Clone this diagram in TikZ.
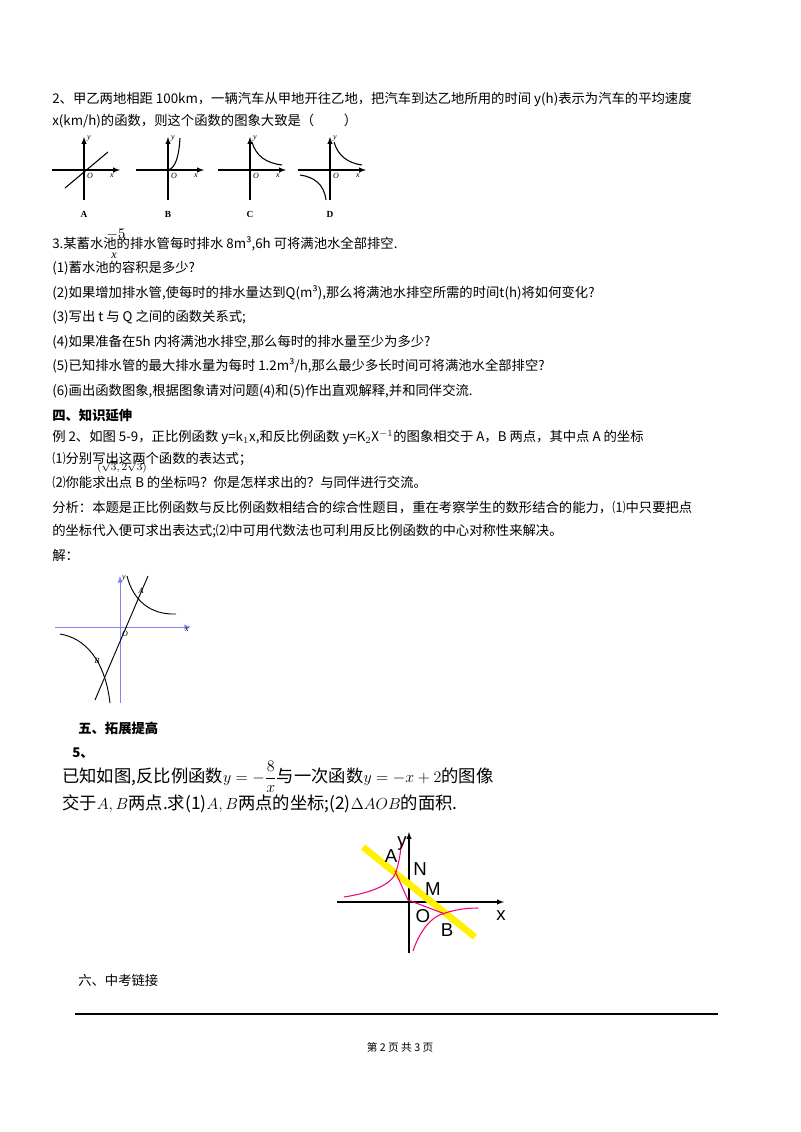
\documentclass[tikz,border=0pt]{standalone}
\usepackage{fontspec}
\setmainfont{Liberation Serif}
\newfontfamily\cjk{Noto Sans CJK SC}
\newfontfamily\arial{Liberation Sans}
\begin{document}
\begin{tikzpicture}[x=0.75pt,y=-0.75pt,
 tx/.style={anchor=base west,inner sep=0,font=\cjk\fontsize{10}{12}\selectfont},
 bx/.style={tx,font=\cjk\bfseries\fontsize{10}{12}\selectfont},
 ax/.style={line width=0.8pt},
 lb/.style={inner sep=0,font=\itshape\fontsize{6}{7}\selectfont},
 gl/.style={inner sep=0,font=\arial\fontsize{14}{16}\selectfont}]
\useasboundingbox (0,0) rectangle (800,1132);
\node[tx] (t1) at (52,103) {2、甲乙两地相距 100km，一辆汽车从甲地开往乙地，把汽车到达乙地所用的时间 y(h)表示为汽车的平均速度};
\node[tx] (t2) at (52,125) {x(km/h)的函数，则这个函数的图象大致是（\quad\quad\ ）};
% four small graphs
\foreach \ox/\lab in {84/A,168/B,250/C,330/D}{
 \draw[ax,-latex] (\ox,200) -- (\ox,137);
 \draw[ax,-latex] (\ox-32,170) -- (\ox+36,170);
 \node[lb] at (\ox+6,176) {O};
 \node[lb] at (\ox+28,176) {x};
 \node[lb] at (\ox+5,139) {y};
 \node[inner sep=0,font=\bfseries\fontsize{7}{8}\selectfont] at (\ox,214) {\lab};
}
\draw[ax] (65,188) -- (108,152);
\draw[ax] (168,170) .. controls (176,168) and (179,155) .. (180,138);
\draw[ax] (252,142) .. controls (256,156) and (266,163) .. (282,165);
\draw[ax] (334,142) .. controls (338,156) and (348,163) .. (362,165);
\draw[ax] (300,175) .. controls (314,177) and (324,184) .. (326,200);
\node[tx] (t3) at (52,248) {3.某蓄水池的排水管每时排水 8m³,6h 可将满池水全部排空.};
\node[inner sep=0,font=\fontsize{11}{12}\selectfont] at (116,234) {$-5$};
\node[inner sep=0,font=\itshape\fontsize{9}{10}\selectfont] at (114,256) {x};
\node[tx] at (52,272) {(1)蓄水池的容积是多少?};
\node[tx] at (52,297) {(2)如果增加排水管,使每时的排水量达到Q(m³),那么将满池水排空所需的时间t(h)将如何变化?};
\node[tx] at (52,321) {(3)写出 t 与 Q 之间的函数关系式;};
\node[tx] at (52,346) {(4)如果准备在5h 内将满池水排空,那么每时的排水量至少为多少?};
\node[tx] at (52,370) {(5)已知排水管的最大排水量为每时 1.2m³/h,那么最少多长时间可将满池水全部排空?};
\node[tx] at (52,395) {(6)画出函数图象,根据图象请对问题(4)和(5)作出直观解释,并和同伴交流.};
\node[bx] at (52,420) {四、知识延伸};
\node[tx] at (52,441) {例 2、如图 5-9，正比例函数 y=k$_1$x,和反比例函数 y=K$_2$X$^{-1}$的图象相交于 A，B 两点，其中点 A 的坐标};
\node[tx] at (52,463) {⑴分别写出这两个函数的表达式；};
\node[inner sep=0,font=\fontsize{8}{9}\selectfont] at (122,467) {$(\sqrt3,2\sqrt3)$};
\node[tx] at (52,487) {⑵你能求出点 B 的坐标吗？你是怎样求出的？与同伴进行交流。};
\node[tx] at (52,512) {分析：本题是正比例函数与反比例函数相结合的综合性题目，重在考察学生的数形结合的能力，⑴中只要把点};
\node[tx] at (52,535) {的坐标代入便可求出表达式;⑵中可用代数法也可利用反比例函数的中心对称性来解决。};
\node[tx] at (52,560) {解：};
% example graph
\draw[blue!50,line width=0.7pt,-latex] (120,703) -- (120,576);
\draw[blue!50,line width=0.7pt,-latex] (55,627) -- (191,627);
\draw[line width=0.7pt] (95,700) -- (148,576);
\draw[line width=0.7pt] (127,576) .. controls (133,600) and (150,615) .. (176,614);
\draw[line width=0.7pt] (60,634) .. controls (85,638) and (105,660) .. (110,703);
\node[lb] at (141,591) {A};
\node[lb] at (97,661) {B};
\node[lb] at (125,634) {O};
\node[lb] at (187,630) {x};
\node[lb] at (124,579) {y};
\node[bx] at (78,733) {五、拓展提高};
\node[bx] at (72,757) {5、};
\node[tx,font=\cjk\fontsize{13}{15}\selectfont] at (62,782) {已知如图,反比例函数$\displaystyle y=-\frac{8}{x}$与一次函数$y=-x+2$的图像};
\node[tx,font=\cjk\fontsize{13}{15}\selectfont] at (62,809) {交于$A,B$两点.求(1)$A,B$两点的坐标;(2)$\Delta AOB$的面积.};
% bottom graph
\draw[line width=0.8pt,-latex] (409,953) -- (409,832);
\draw[line width=0.8pt,-latex] (337,902) -- (504,902);
\draw[yellow,line width=5pt] (363,847) -- (475,937);
\draw[magenta!80!red,line width=0.8pt] (344,897) .. controls (370,893) and (392,885) .. (396,872) .. controls (399,862) and (401,852) .. (401,842);
\draw[magenta!80!red,line width=0.8pt] (413,951) .. controls (420,930) and (432,916) .. (445,913) .. controls (458,909) and (468,908) .. (478,908);
\draw[magenta,line width=0.8pt] (395,871) -- (408,900) -- (445,914);
\node[gl] at (391,856) {A};
\node[gl] at (402,843) {y};
\node[gl] at (420,869) {N};
\node[gl] at (433,889) {M};
\node[gl] at (423,916) {O};
\node[gl] at (501,916) {x};
\node[gl] at (447,930) {B};
\node[tx] at (78,985) {六、中考链接};
\draw[line width=1pt] (75,1014) -- (718,1014);
\node[inner sep=0,font=\cjk\fontsize{8}{9}\selectfont] at (400,1047) {第 2 页 共 3 页};
\end{tikzpicture}
\end{document}
